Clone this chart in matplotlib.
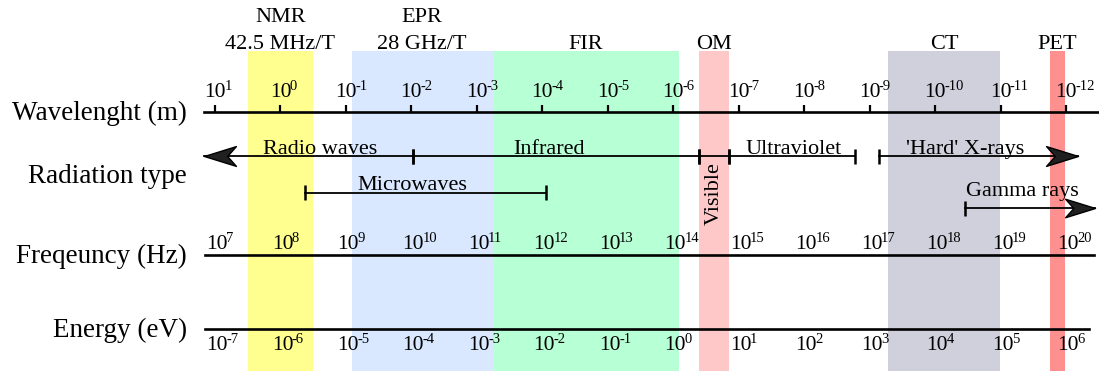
import matplotlib
matplotlib.use('Agg')
import matplotlib.pyplot as plt
from matplotlib.path import Path
from matplotlib.transforms import offset_copy

plt.rcParams['font.family'] = ['Liberation Serif', 'DejaVu Serif']

# scale exponents (one decade per column)
wlExp = list(range(1, -13, -1))      # wavelength (m)
freqExp = list(range(7, 21))         # frequency (Hz)
energyExp = list(range(-7, 7))       # energy (eV)

# technique bands, edges in log10 wavelength
bandNames = ['NMR\n42.5 MHz/T', 'EPR\n28 GHz/T', 'FIR', 'OM', 'CT', 'PET']
bandStart = [0.49, -1.09, -3.24, -6.40, -9.28, -11.75]
bandEnd = [-0.49, -3.24, -6.09, -6.85, -10.99, -11.99]
bandColors = ['#FFFF90', '#D9E8FF', '#B7FFD4', '#FFC8C8', '#D0D0DC', '#FF9090']

# radiation types, extents in log10 wavelength
radNames = ['Radio waves', 'Infrared', 'Visible', 'Ultraviolet', "'Hard' X-rays",
            'Microwaves', 'Gamma rays']
radStart = [1.17, -2.02, -6.40, -6.85, -9.14, -0.375, -10.46]
radEnd = [-2.02, -6.40, -6.85, -8.78, -12.19, -4.06, -12.45]

# layout (pixel rows from top, label positions in log10 wavelength)
radRow = [156, 156, 156, 156, 156, 192.7, 208.3]
radTextX = [-0.60, -4.10, -6.62, -7.84, -10.46, -2.01, -11.33]
radTextY = [154, 154, 194, 154, 154, 190, 196]
arrowLeft = [True, False, False, False, False, False, False]
arrowRight = [False, False, False, False, True, False, True]

W, H = 1099, 371
pxPerDec = 65.46
x0 = 215  # pixel of 10^1 tick


def px2lw(p):
    return 1 - (p - x0) / pxPerDec


fig = plt.figure(figsize=(W / 100, H / 100), dpi=100)
ax = fig.add_axes([0, 0, 1, 1])
ax.set_xlim(px2lw(0), px2lw(W))
ax.set_ylim(H, 0)
ax.axis('off')

# bands
for name, lo, hi, c in zip(bandNames, bandStart, bandEnd, bandColors):
    ax.axvspan(lo, hi, ymin=0, ymax=1 - 51 / H, color=c, lw=0, zorder=0)
    lines = name.split('\n')
    for i, ln in enumerate(reversed(lines)):
        ax.text((lo + hi) / 2, 49 - i * 26.5, ln, ha='center', va='baseline',
                fontsize=16)

# row labels
rowLab = ['Wavelenght (m)', 'Radiation type', 'Freqeuncy (Hz)', 'Energy (eV)']
rowBase = [120, 183, 263, 337]
for lab, yb in zip(rowLab, rowBase):
    ax.text(187 / W, yb, lab, ha='right', va='baseline', fontsize=19.5,
            transform=ax.get_yaxis_transform())

# scale lines
ax.plot([px2lw(204), px2lw(1098)], [111.7, 111.7], color='black', lw=1.9, zorder=3)
ax.plot([px2lw(205), px2lw(1094)], [255, 255], color='black', lw=1.9, zorder=3)
ax.plot([px2lw(205), px2lw(1089)], [329, 329], color='black', lw=1.9, zorder=3)
ax.vlines(wlExp, 104.5, 111.7, color='black', lw=1.6, zorder=3)

baseSize = 15.5
supSize = 10.5
baseW = baseSize * 100 / 72  # width of "10" in pixels


def tickLabel(x, yb, e, dx):
    trB = offset_copy(ax.transData, fig=fig, x=dx, y=0, units='dots')
    ax.text(x, yb, '10', ha='left', va='baseline', fontsize=baseSize, transform=trB)
    trS = offset_copy(ax.transData, fig=fig, x=dx + baseW - 1.5, y=7, units='dots')
    ax.text(x, yb, str(e), ha='left', va='baseline', fontsize=supSize, transform=trS)


for i, e in enumerate(wlExp):
    tickLabel(wlExp[i], 97, e, -baseW / 2)
for i, e in enumerate(freqExp):
    tickLabel(wlExp[i], 249, e, -baseW / 2 + 2)
for i, e in enumerate(energyExp):
    tickLabel(wlExp[i], 350, e, -baseW / 2 + 2)

# radiation types
headL = Path([(0, 0), (2, 0.62), (1.45, 0), (2, -0.62), (0, 0)], closed=True)
headR = Path([(0, 0), (-2, 0.62), (-1.45, 0), (-2, -0.62), (0, 0)], closed=True)
for i, name in enumerate(radNames):
    a, b, y = radStart[i], radEnd[i], radRow[i]
    ax.plot([a, b], [y, y], color='black', lw=1.3, zorder=3)
    if arrowLeft[i]:
        ax.plot([a], [y], marker=headL, ms=46, mfc='#202020', mec='black', mew=1.0, zorder=4)
    else:
        ax.vlines([a], y - 7.5, y + 7.5, color='black', lw=1.8, zorder=3)
    if arrowRight[i]:
        ax.plot([b], [y], marker=headR, ms=46 if i == 4 else 43, mfc='#202020',
                mec='black', mew=1.0, zorder=4)
    else:
        ax.vlines([b], y - 7.5, y + 7.5, color='black', lw=1.8, zorder=3)
    if name == 'Visible':
        ax.text(radTextX[i], radTextY[i], name, ha='center', va='center',
                rotation=90, fontsize=16)
    else:
        ax.text(radTextX[i], radTextY[i], name, ha='center', va='baseline',
                fontsize=16)

fig.savefig('out.png', dpi=100)
